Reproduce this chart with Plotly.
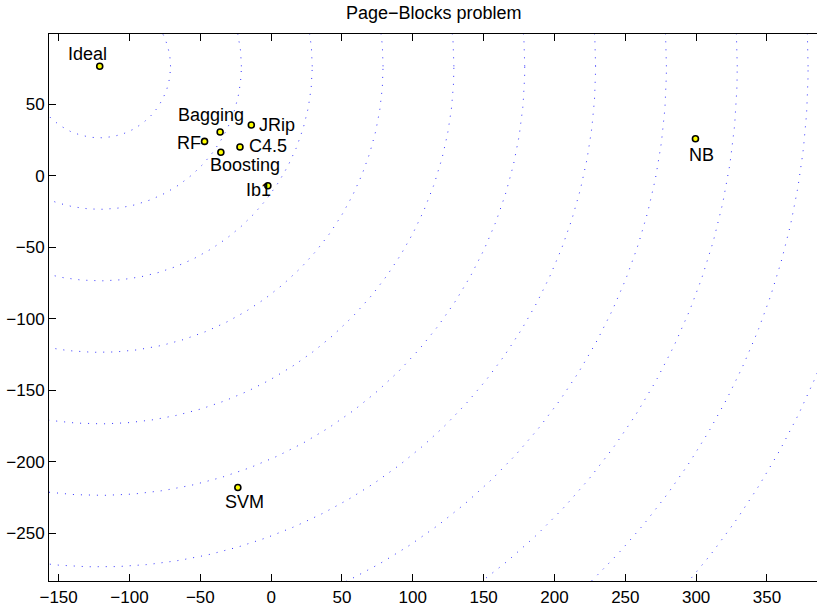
import numpy as np
import plotly.graph_objects as go

# ---- data ----
names = ["Ideal", "Bagging", "JRip", "RF", "C4.5", "Boosting", "Ib1", "NB", "SVM"]
x_vals = [-121, -36, -14, -47, -22, -35.5, -2.3, 299.5, -23.5]
y_vals = [76.5, 30.6, 35.5, 24.0, 20.1, 16.4, -7.0, 25.9, -218]
radii = [50, 100, 150, 200, 250, 300, 350, 400, 450, 500, 550]
x_ticks = [-150, -100, -50, 0, 50, 100, 150, 200, 250, 300, 350]
y_ticks = [-250, -200, -150, -100, -50, 0, 50]

# label offsets in pixels (dx right, dy down) relative to point -> text center
label_offsets = {
    "Ideal": (-12, -12), "Bagging": (-9.5, -16.5), "JRip": (26, 0),
    "RF": (-15.5, 1.5), "C4.5": (28.5, -1), "Boosting": (24, 13),
    "Ib1": (-9.5, 4.5), "NB": (6.5, 16.5), "SVM": (6.5, 14.5),
}

FONT = "Liberation Sans, Arial, Helvetica, sans-serif"
fig = go.Figure()

cx, cy = x_vals[0], y_vals[0]
t = np.linspace(0, 2 * np.pi, 720)
for r in radii:
    fig.add_trace(go.Scatter(
        x=cx + r * np.cos(t), y=cy + r * np.sin(t), mode="lines",
        line=dict(color="rgba(0,0,255,0.8)", width=1, dash="1px,7px"),
        hoverinfo="skip", showlegend=False))

fig.add_trace(go.Scatter(
    x=x_vals, y=y_vals, mode="markers",
    marker=dict(size=6, color="#ffff00", line=dict(color="black", width=1.6)),
    showlegend=False, text=names))

for n, xv, yv in zip(names, x_vals, y_vals):
    dx, dy = label_offsets[n]
    fig.add_annotation(x=xv, y=yv, text=n, showarrow=False,
                       xanchor="center", yanchor="middle",
                       xshift=dx, yshift=-dy, borderpad=0,
                       font=dict(family=FONT, size=18, color="black"))

fig.update_layout(
    width=817, height=608,
    margin=dict(l=49, r=0, t=34, b=27),
    paper_bgcolor="white", plot_bgcolor="white",
    title=dict(text="Page\u2212Blocks problem", x=0.531, xanchor="center",
               y=1 - 13 / 608, yanchor="middle",
               font=dict(family=FONT, size=18, color="black")),
    font=dict(family=FONT, size=17, color="black"),
    xaxis=dict(range=[-156.8, 385.3], tickvals=x_ticks, showgrid=False,
               zeroline=False, showline=True, linecolor="black", linewidth=1,
               mirror="ticks", ticks="inside", ticklen=7, tickcolor="black",
               ticklabelstandoff=1,
               tickfont=dict(family=FONT, size=17)),
    yaxis=dict(range=[-283.4, 99.1], tickvals=y_ticks, showgrid=False,
               zeroline=False, showline=True, linecolor="black", linewidth=1,
               mirror=False, ticks="inside", ticklen=7, tickcolor="black",
               tickfont=dict(family=FONT, size=17)),
)

fig.write_html("out.html")
